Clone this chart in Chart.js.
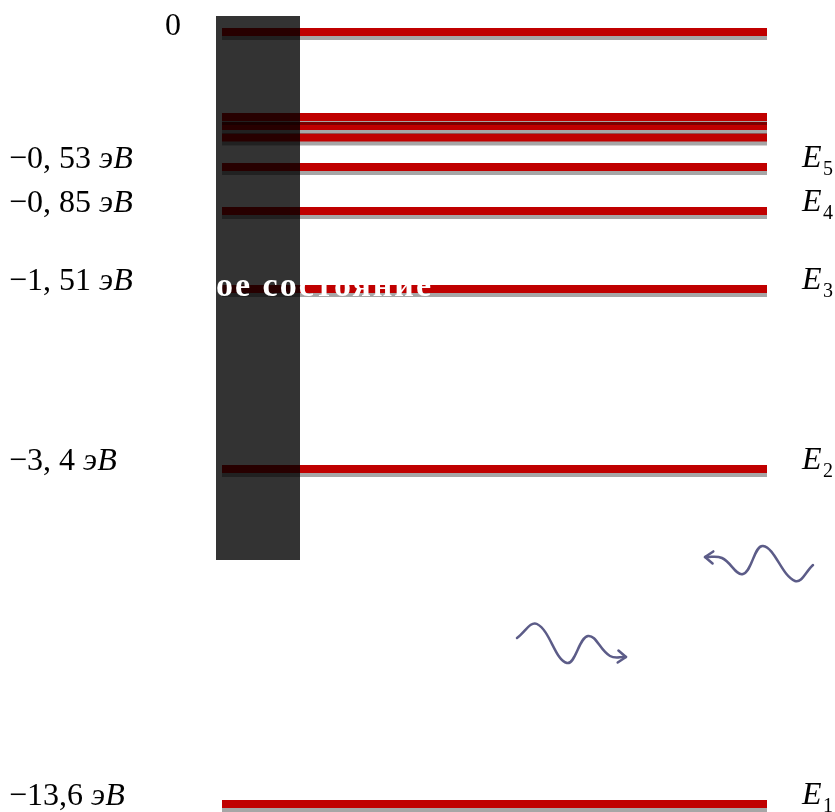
<!DOCTYPE html>
<html>
<head>
<meta charset="utf-8">
<script src="https://cdn.jsdelivr.net/npm/chart.js@4/dist/chart.umd.min.js"></script>
<style>
  html, body { margin: 0; padding: 0; background: #fff; overflow: hidden; }
  #wrap { width: 835px; height: 812px; }
</style>
</head>
<body>
<div id="wrap"><canvas id="levels" width="835" height="812"></canvas></div>
<script>
// ---------- DATA ----------
// level positions on the schematic (diagram units, top = 0)
const levelPos   = [32, 117, 126, 137.5, 167, 211, 289, 469, 804];
const levelValue = ['0', '', '', '', '−0, 53', '−0, 85', '−1, 51', '−3, 4', '−13,6'];
const levelIndex = ['', '', '', '', '5', '4', '3', '2', '1'];
const lineFrom = 222;
const lineTo   = 767;

// photons (wavy arrows), last point is the arrow tip
const photonAx = [813, 795, 763, 743, 722, 705];
const photonAy = [565, 581, 546, 574, 558, 557];
const photonBx = [517, 537, 567, 588, 610, 626];
const photonBy = [638, 624, 663, 636, 656, 657];

// dark panel on the left of the levels
const panel = { x0: 216, x1: 300, y0: 16, y1: 560 };
const stateText = 'ое состояние';

const SERIF = '"Liberation Serif", "DejaVu Serif", serif';

// ---------- DATASETS ----------
const datasets = [];
// draw bottom levels first so upper shadows fall on the ones below
for (let i = levelPos.length - 1; i >= 0; i--) {
    datasets.push({
        kind: 'level',
        data: [{ x: lineFrom, y: levelPos[i] }, { x: lineTo, y: levelPos[i] }],
        borderColor: '#c00000',
        borderWidth: 8,
        borderCapStyle: 'butt',
        pointRadius: 0
    });
}
function photon(xs, ys) {
    return {
        kind: 'photon',
        data: xs.map((x, i) => ({ x: x, y: ys[i] })),
        borderColor: '#5c5c88',
        borderWidth: 2.5,
        borderCapStyle: 'round',
        tension: 0.4,
        pointRadius: 0
    };
}
datasets.push(photon(photonAx, photonAy));
datasets.push(photon(photonBx, photonBy));
// first in list drawn first
datasets.forEach((d, i) => { d.order = datasets.length - i; });

// ---------- PLUGINS ----------
const shadowPlugin = {
    id: 'levelShadow',
    beforeDatasetDraw(chart, args) {
        const ds = chart.data.datasets[args.index];
        if (ds.kind !== 'level') return;
        const ctx = chart.ctx;
        ctx.save();
        ctx.shadowColor = 'rgba(0,0,0,0.35)';
        ctx.shadowBlur = 0;
        ctx.shadowOffsetX = 0;
        ctx.shadowOffsetY = 4;
    },
    afterDatasetDraw(chart, args) {
        const ds = chart.data.datasets[args.index];
        if (ds.kind !== 'level') return;
        chart.ctx.restore();
    }
};

const overlayPlugin = {
    id: 'overlay',
    afterDatasetsDraw(chart) {
        const ctx = chart.ctx;
        const xs = chart.scales.x, ys = chart.scales.y;

        // arrow heads
        chart.data.datasets.forEach((ds, i) => {
            if (ds.kind !== 'photon') return;
            const pts = chart.getDatasetMeta(i).data;
            const a = pts[pts.length - 2], b = pts[pts.length - 1];
            const ang = Math.atan2(b.y - a.y, b.x - a.x);
            ctx.save();
            ctx.strokeStyle = ds.borderColor;
            ctx.lineWidth = 2.5;
            ctx.lineCap = 'round';
            ctx.lineJoin = 'round';
            ctx.beginPath();
            ctx.moveTo(b.x - 10 * Math.cos(ang + 0.65), b.y - 10 * Math.sin(ang + 0.65));
            ctx.lineTo(b.x, b.y);
            ctx.lineTo(b.x - 10 * Math.cos(ang - 0.65), b.y - 10 * Math.sin(ang - 0.65));
            ctx.stroke();
            ctx.restore();
        });

        // dark panel
        const px0 = xs.getPixelForValue(panel.x0), px1 = xs.getPixelForValue(panel.x1);
        const py0 = ys.getPixelForValue(panel.y0), py1 = ys.getPixelForValue(panel.y1);
        ctx.save();
        ctx.fillStyle = 'rgba(0,0,0,0.8)';
        ctx.fillRect(px0, py0, px1 - px0, py1 - py0);
        ctx.restore();

        // labels
        ctx.save();
        ctx.fillStyle = '#000';
        ctx.textBaseline = 'alphabetic';
        levelPos.forEach((pos, i) => {
            const y = ys.getPixelForValue(pos);
            const txt = levelValue[i];
            if (txt === '0') {
                ctx.font = '32px ' + SERIF;
                ctx.textAlign = 'center';
                ctx.fillText('0', 173, y + 3);
                return;
            }
            if (txt) {
                ctx.textAlign = 'left';
                ctx.font = '32px ' + SERIF;
                ctx.fillText(txt, 9, y + 1);
                const w = ctx.measureText(txt).width;
                ctx.font = 'italic 32px ' + SERIF;
                ctx.fillText('эВ', 9 + w + 8, y + 1);
            }
            if (levelIndex[i]) {
                ctx.textAlign = 'left';
                ctx.font = 'italic 32px ' + SERIF;
                ctx.fillText('E', 802, y);
                ctx.font = '20px ' + SERIF;
                ctx.fillText(levelIndex[i], 823, y + 8);
            }
        });
        ctx.restore();

        // white caption partly hidden on the white page
        ctx.save();
        ctx.fillStyle = '#fff';
        ctx.font = 'bold 34px ' + SERIF;
        ctx.letterSpacing = '2px';
        ctx.textAlign = 'left';
        ctx.fillText(stateText, px0, ys.getPixelForValue(levelPos[6]) + 7);
        ctx.restore();
    }
};

// ---------- CHART ----------
new Chart(document.getElementById('levels'), {
    type: 'line',
    data: { datasets: datasets },
    options: {
        responsive: false,
        animation: false,
        layout: { padding: 0 },
        plugins: { legend: { display: false }, tooltip: { enabled: false } },
        scales: {
            x: { type: 'linear', min: 0, max: 835, display: false },
            y: { type: 'linear', min: 0, max: 812, reverse: true, display: false }
        }
    },
    plugins: [shadowPlugin, overlayPlugin]
});
</script>
</body>
</html>
